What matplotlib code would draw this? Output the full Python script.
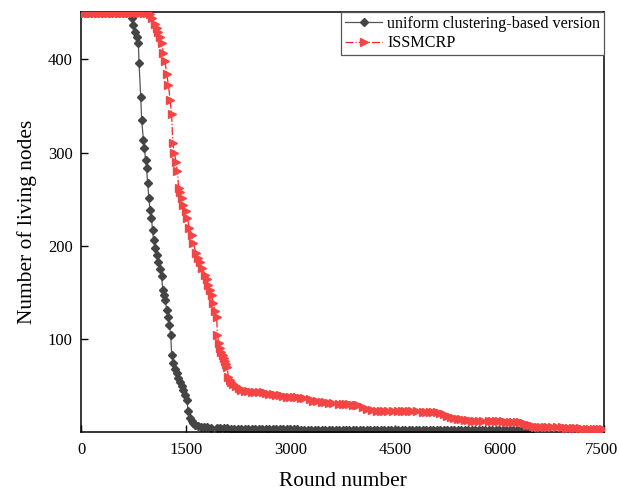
import matplotlib
matplotlib.use("Agg")
import matplotlib.pyplot as plt
import matplotlib.transforms as mtransforms

# ---- data ----
uniform_rounds = [0, 50, 100, 150, 200, 250, 300, 350, 400, 450, 500, 550, 600, 650, 700,
                  727, 750, 774, 800, 822, 832, 856, 870, 894, 910, 925, 940, 955, 975, 990,
                  1010, 1025, 1040, 1061, 1085, 1105, 1130, 1157, 1171, 1190, 1205, 1229, 1250,
                  1267, 1286, 1300, 1324, 1350, 1372, 1395, 1420, 1445, 1467, 1490, 1515, 1539,
                  1563, 1590, 1611, 1640, 1678, 1720, 1760, 1800, 1870, 1945, 2000, 2050, 2100,
                  2150, 2200, 2250, 2300, 2350, 2400, 2450, 2500, 2550, 2600, 2650, 2700, 2750,
                  2800, 2850, 2900, 2950, 3000, 3050, 3100, 3150, 3200, 3250, 3300, 3350, 3400,
                  3450, 3500, 3550, 3600, 3650, 3700, 3750, 3800, 3850, 3900, 3950, 4000, 4050,
                  4100, 4150, 4200, 4250, 4300, 4350, 4400, 4450, 4500, 4550, 4600, 4650, 4700,
                  4750, 4800, 4850, 4900, 4950, 5000, 5050, 5100, 5150, 5200, 5250, 5300, 5350,
                  5400, 5450, 5500, 5550, 5600, 5650, 5700, 5750, 5800, 5850, 5900, 5950, 6000,
                  6050, 6100, 6150, 6200, 6250, 6300, 6350, 6400, 6440]
uniform_nodes = [450, 450, 450, 450, 450, 450, 450, 450, 450, 450, 450, 450, 450, 450, 450,
                 445, 437, 429, 424, 418, 396, 360, 335, 314, 305, 292, 284, 267, 251, 238,
                 230, 217, 206, 198, 190, 182, 175, 167, 153, 147, 142, 131, 123,
                 115, 104, 83, 74, 68, 63, 58, 54, 49, 45, 40, 34, 22,
                 15, 12, 10, 8, 6, 5, 5, 5, 4, 4, 4, 4, 4,
                 3, 3, 3, 3, 3, 3, 3, 3, 3, 3, 3, 3, 3,
                 3, 3, 3, 3, 3, 3, 3, 2, 2, 2, 2, 2, 2,
                 2, 2, 2, 2, 2, 2, 2, 2, 2, 2, 2, 2, 2,
                 2, 2, 2, 2, 2, 2, 2, 2, 2, 2, 2, 2, 2,
                 2, 2, 2, 2, 2, 2, 2, 2, 2, 2, 2, 2, 2,
                 2, 2, 2, 2, 2, 2, 2, 2, 2, 2, 2, 2, 2,
                 2, 2, 2, 2, 2, 2, 2, 2, 0]

issmcrp_rounds = [0, 50, 100, 150, 200, 250, 300, 350, 400, 450, 500, 550, 600, 650, 700, 750,
                  800, 850, 900, 950, 989, 1020, 1061, 1085, 1109, 1130, 1157, 1181, 1205, 1229,
                  1253, 1276, 1300, 1315, 1340, 1362, 1381, 1400, 1415, 1444, 1467, 1500, 1525,
                  1553, 1587, 1611, 1649, 1682, 1710, 1740, 1778, 1800, 1826, 1850, 1874, 1898,
                  1920, 1945, 1955, 1975, 1993, 2010, 2032, 2050, 2065, 2080, 2098, 2112, 2130,
                  2150, 2184, 2220, 2260, 2300, 2350, 2400, 2450, 2500, 2550, 2614, 2650, 2700,
                  2750, 2800, 2854, 2900, 2950, 3000, 3050, 3093, 3150, 3200, 3284, 3330, 3380,
                  3450, 3500, 3550, 3619, 3700, 3750, 3800, 3850, 3900, 3950, 3977, 4050, 4100,
                  4169, 4250, 4300, 4350, 4400, 4479, 4550, 4600, 4650, 4700, 4750, 4814, 4900,
                  4950, 5000, 5050, 5100, 5150, 5200, 5250, 5300, 5350, 5400, 5450, 5500, 5550,
                  5600, 5650, 5700, 5770, 5850, 5900, 5950, 6000, 6050, 6100, 6150, 6200, 6250,
                  6296, 6350, 6400, 6439, 6480, 6511, 6550, 6600, 6650, 6700, 6750, 6822, 6900,
                  6950, 7000, 7050, 7100, 7156, 7200, 7250, 7300, 7350, 7400, 7443, 7480]
issmcrp_nodes = [450, 450, 450, 450, 450, 450, 450, 450, 450, 450, 450, 450, 450, 450, 450, 450,
                 450, 450, 450, 450, 449, 445, 438, 434, 430, 424, 418, 407, 398, 384,
                 373, 357, 341, 310, 300, 290, 280, 262, 258, 251, 244, 237, 230,
                 219, 212, 203, 192, 187, 182, 176, 169, 164, 158, 153, 147, 138,
                 130, 124, 104, 96, 90, 86, 83, 79, 76, 73, 70, 59, 56,
                 54, 52, 49, 47, 45, 44, 44, 43, 43, 43, 43, 42, 41,
                 41, 40, 40, 39, 38, 38, 38, 38, 36, 36, 35, 33, 33,
                 32, 32, 31, 31, 30, 30, 30, 30, 29, 29, 29, 27, 25,
                 24, 23, 23, 23, 23, 23, 23, 22, 22, 22, 22, 22, 21,
                 21, 21, 21, 21, 20, 19, 17, 16, 15, 14, 14, 13, 13,
                 12, 12, 12, 12, 12, 12, 12, 12, 12, 11, 11, 11, 11,
                 11, 10, 8, 7, 6, 5, 5, 5, 5, 5, 5, 5, 5,
                 4, 4, 4, 4, 4, 3, 3, 3, 3, 3, 3, 3]

x_ticks = [0, 1500, 3000, 4500, 6000, 7500]
y_ticks = [100, 200, 300, 400]
series_labels = ["uniform clustering-based version", "ISSMCRP"]

plt.rcParams['font.family'] = ['Liberation Serif', 'DejaVu Serif']

fig = plt.figure(figsize=(6.19, 4.92), dpi=100)
ax = fig.add_axes([0.1309, 0.122, 0.9758 - 0.1309, 0.9756 - 0.122])

ax.plot(uniform_rounds, uniform_nodes, color='#555555', linestyle='-', linewidth=0.9,
        marker='D', markersize=4.5, markerfacecolor='#444444', markeredgecolor='#444444',
        label=series_labels[0], zorder=2)
ax.plot(issmcrp_rounds, issmcrp_nodes, color='#ff2020', linestyle='-.', linewidth=0.9,
        marker='>', markersize=6.0, markerfacecolor='#f54444', markeredgecolor='#f54444',
        label=series_labels[1], zorder=3)

ax.set_xlim(0, 7500)
ax.set_ylim(0, 451)
ax.set_xticks(x_ticks)
ax.set_yticks(y_ticks)
ax.tick_params(direction='in', length=5, width=1, labelsize=12, pad=6)
ax.tick_params(axis='x', pad=7)
for s in ax.spines.values():
    s.set_linewidth(1.1)

# keep the last x tick label inside the canvas
last_lbl = ax.get_xticklabels()[-1]
last_lbl.set_transform(last_lbl.get_transform() +
                       mtransforms.ScaledTranslation(-3 / 100, 0, fig.dpi_scale_trans))

ax.set_xlabel("Round number", fontsize=15.4, labelpad=10)
ax.set_ylabel("Number of living nodes", fontsize=15.4, labelpad=8)

leg = ax.legend(loc='upper right', borderaxespad=0, fancybox=False, fontsize=11.6,
                handlelength=2.3, handletextpad=0.3, borderpad=0.25, labelspacing=0.2,
                framealpha=1)
leg.get_frame().set_edgecolor('#555555')
leg.get_frame().set_linewidth(0.9)

fig.savefig("out.png", dpi=100)
